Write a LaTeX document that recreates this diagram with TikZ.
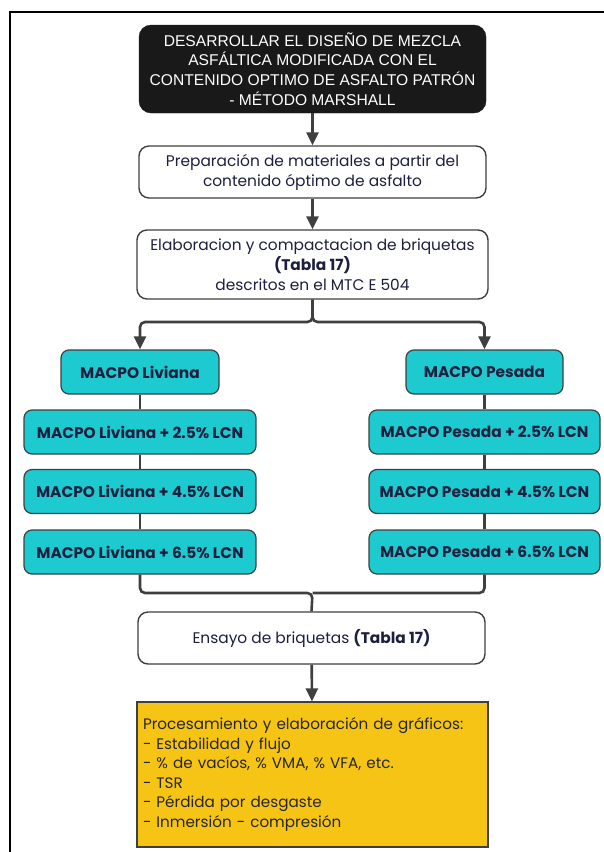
\documentclass[tikz,border=0pt]{standalone}
\usepackage{fontspec}
\setmainfont{Poppins}
\newfontfamily\capsfont{Liberation Sans}
\usepackage{xcolor}
\usetikzlibrary{arrows.meta}

\definecolor{navy}{HTML}{1C1F3E}
\definecolor{linegray}{HTML}{3F3F3F}
\definecolor{boxcyan}{HTML}{1CCAD0}
\definecolor{boxyellow}{HTML}{F5C415}

\begin{document}
\begin{tikzpicture}[x=1pt,y=-1pt,
    darkbox/.style={rectangle,rounded corners=12pt,fill=black!90,draw=black!90,text=white,align=center,minimum width=347pt,minimum height=88pt,font=\capsfont\fontsize{15.6}{19.8}\selectfont},
    whitebox/.style={rectangle,rounded corners=10pt,fill=white,draw=linegray,line width=1.4pt,text=navy,align=center,minimum height=52pt,font=\fontsize{15.4}{20}\selectfont},
    cyanbox/.style={rectangle,rounded corners=8pt,fill=boxcyan,draw=linegray,line width=1.2pt,text=navy,minimum height=44pt,font=\bfseries\fontsize{15.4}{18}\selectfont},
    yellowbox/.style={rectangle,fill=boxyellow,draw=linegray,line width=1.2pt,text=black!85,align=left,text width=339pt,inner xsep=6pt,minimum height=145pt,font=\fontsize{15.2}{19.5}\selectfont},
    conn/.style={draw=linegray,line width=2.6pt,rounded corners=5pt},
    arr/.style={conn,-{Triangle[length=13pt,width=12pt]}}]

    \useasboundingbox (0,0) rectangle (603,852);
    \draw[line width=2pt] (10,12) rectangle (640,900);

    \node (top) at (312.5,69) [darkbox] {DESARROLLAR EL DISEÑO DE MEZCLA\\ASFÁLTICA MODIFICADA CON EL\\CONTENIDO OPTIMO DE ASFALTO PATRÓN\\- MÉTODO MARSHALL};
    \node (prep) at (312.5,172) [whitebox,minimum width=347pt] {Preparación de materiales a partir del\\contenido óptimo de asfalto};
    \node (elab) at (312.5,264.5) [whitebox,minimum width=351pt,minimum height=69pt] {Elaboracion y compactacion de briquetas\\\textbf{(Tabla 17)}\\descritos en el MTC E 504};

    \coordinate (split) at (312.5,322);

    \node (liv) at (140,372) [cyanbox,minimum width=158pt] {MACPO Liviana};
    \node (liv1) at (140,432) [cyanbox,minimum width=232pt] {MACPO Liviana + 2.5\% LCN};
    \node (liv2) at (140,491.5) [cyanbox,minimum width=232pt] {MACPO Liviana + 4.5\% LCN};
    \node (liv3) at (140,552) [cyanbox,minimum width=232pt] {MACPO Liviana + 6.5\% LCN};

    \node (pes) at (484.5,372) [cyanbox,minimum width=157pt] {MACPO Pesada};
    \node (pes1) at (484.5,432) [cyanbox,minimum width=231pt] {MACPO Pesada + 2.5\% LCN};
    \node (pes2) at (484.5,491.5) [cyanbox,minimum width=231pt] {MACPO Pesada + 4.5\% LCN};
    \node (pes3) at (484.5,552) [cyanbox,minimum width=231pt] {MACPO Pesada + 6.5\% LCN};

    \coordinate (join) at (312.5,593);

    \node (ens) at (311.5,638) [whitebox,minimum width=347pt] {Ensayo de briquetas \textbf{(Tabla 17)}};
    \node (proc) at (312.5,774.5) [yellowbox] {Procesamiento y elaboración de gráficos:\\- Estabilidad y flujo\\- \% de vacíos, \% VMA, \% VFA, etc.\\- TSR\\- Pérdida por desgaste\\- Inmersión - compresión};

    \draw[arr] (top) -- (prep);
    \draw[arr] (prep) -- (elab);
    \draw[arr] (elab.south) -- (split) -| (liv.north);
    \draw[arr] (elab.south) -- (split) -| (pes.north);
    \draw[conn] (liv) -- (liv1) (liv1) -- (liv2) (liv2) -- (liv3);
    \draw[conn] (pes) -- (pes1) (pes1) -- (pes2) (pes2) -- (pes3);
    \draw[conn] (liv3.south) |- (join) -- (ens.north);
    \draw[conn] (pes3.south) |- (join);
    \draw[arr] (ens) -- (proc);

\end{tikzpicture}
\end{document}
